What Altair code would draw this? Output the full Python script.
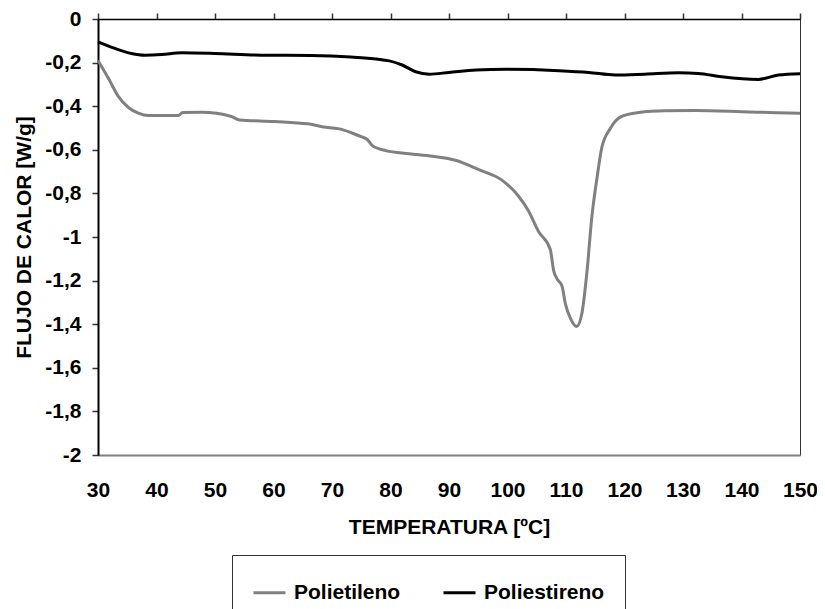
import altair as alt
import pandas as pd

# Polietileno (gray curve)
pe_temp = [30, 31.8, 33.5, 35.2, 36.9, 38.6, 43.7, 44.5, 47.7, 52.8, 54.2, 60.2, 65.9,
           69.3, 71.3, 73.5, 75.2, 76.1, 76.9, 79.2, 83.2, 87.2, 91.1, 95.1, 99.1, 101.9,
           103.6, 105.3, 107.3, 107.9, 108.5, 109.3, 109.9, 110.8, 111.8, 112.7, 113.6,
           114.4, 115.3, 116.1, 117.6, 119.5, 122.4, 126.9, 132, 140, 146, 150]
pe_flow = [-0.19, -0.273, -0.356, -0.406, -0.432, -0.443, -0.443, -0.429, -0.428, -0.447,
           -0.463, -0.470, -0.481, -0.498, -0.504, -0.524, -0.542, -0.554, -0.581, -0.604,
           -0.618, -0.630, -0.648, -0.691, -0.740, -0.813, -0.881, -0.975, -1.056, -1.155,
           -1.193, -1.224, -1.307, -1.376, -1.411, -1.353, -1.155, -0.912, -0.729, -0.592,
           -0.501, -0.447, -0.429, -0.421, -0.420, -0.425, -0.430, -0.432]

# Poliestireno (black curve)
ps_temp = [30, 32.9, 35.7, 38, 40.9, 44.3, 49.9, 57.9, 66.4, 73.2, 79.8, 82, 84.3, 86.6,
           90, 94.6, 99.7, 108.8, 113.9, 118.4, 123.5, 129.2, 132.6, 136.6, 142.9, 146.3, 150]
ps_flow = [-0.105, -0.135, -0.158, -0.166, -0.163, -0.155, -0.158, -0.166, -0.167, -0.174,
           -0.192, -0.211, -0.242, -0.253, -0.245, -0.234, -0.231, -0.237, -0.245, -0.257,
           -0.253, -0.247, -0.250, -0.265, -0.277, -0.257, -0.251]

series = ["Polietileno", "Poliestireno"]
colors = ["#808080", "#000000"]
x_ticks = [30, 40, 50, 60, 70, 80, 90, 100, 110, 120, 130, 140, 150]
y_ticks = [0, -0.2, -0.4, -0.6, -0.8, -1, -1.2, -1.4, -1.6, -1.8, -2]

df_pe = pd.DataFrame({"T": pe_temp, "F": pe_flow, "Serie": series[0]})
df_ps = pd.DataFrame({"T": ps_temp, "F": ps_flow, "Serie": series[1]})

FONT = "Liberation Sans"
FS = 21

xscale = alt.Scale(domain=[30, 150], nice=False, zero=False)
yscale = alt.Scale(domain=[-2, 0], nice=False, zero=False)

color = alt.Color(
    "Serie:N",
    scale=alt.Scale(domain=series, range=colors),
    legend=alt.Legend(
        orient="none", legendX=134, legendY=536, direction="horizontal", title=None,
        symbolType="stroke", symbolSize=1024, symbolStrokeWidth=3,
        labelFont=FONT, labelFontSize=FS, labelFontWeight="bold", labelColor="black",
        labelOffset=7, columnPadding=36, padding=20,
        strokeColor="#333333", fillColor="white",
    ),
)

y_axis = alt.Axis(
    values=y_ticks, labelExpr="replace(toString(datum.value), '.', ',')",
    title="FLUJO DE CALOR [W/g]", titleFont=FONT, titleFontSize=FS, titleFontWeight="bold",
    titleColor="black", titlePadding=10,
    labelFont=FONT, labelFontSize=FS, labelFontWeight="bold", labelColor="black",
    labelPadding=11, labelFlush=False, labelOverlap=False,
    tickSize=6, tickColor="#333333", tickWidth=1.5,
    domainColor="black", domainWidth=2, grid=False,
)

bottom_axis = alt.Axis(
    orient="bottom", values=x_ticks, ticks=False, tickSize=0,
    labelFont=FONT, labelFontSize=FS, labelFontWeight="bold", labelColor="black",
    labelPadding=24, labelFlush=False, labelOverlap=False,
    domainColor="#808080", domainWidth=2, grid=False,
    title="TEMPERATURA [ºC]", titleFont=FONT, titleFontSize=FS, titleFontWeight="bold",
    titleColor="black", titlePadding=16,
)

top_axis = alt.Axis(
    orient="top", values=x_ticks, labels=False, tickSize=6, tickColor="#333333",
    tickWidth=1.5, domainColor="black", domainWidth=1.5, grid=False, title=None,
)

pe = alt.Chart(df_pe).mark_line(strokeWidth=3, interpolate="monotone").encode(
    x=alt.X("T:Q", scale=xscale, axis=bottom_axis),
    y=alt.Y("F:Q", scale=yscale, axis=y_axis),
    color=color,
)

ps = alt.Chart(df_ps).mark_line(strokeWidth=3, interpolate="monotone").encode(
    x=alt.X("T:Q", scale=xscale, axis=top_axis),
    y=alt.Y("F:Q", scale=yscale, axis=y_axis),
    color=color,
)

chart = (
    alt.layer(pe, ps)
    .resolve_axis(x="independent")
    .properties(
        width=702, height=436,
        autosize=alt.AutoSizeParams(type="none"),
        padding={"left": 90, "top": 11, "right": 17, "bottom": 154},
    )
    .configure(font=FONT)
    .configure_view(stroke="#333333", strokeWidth=1)
)

chart.save("out.html", embed_options={"renderer": "svg", "actions": False})
